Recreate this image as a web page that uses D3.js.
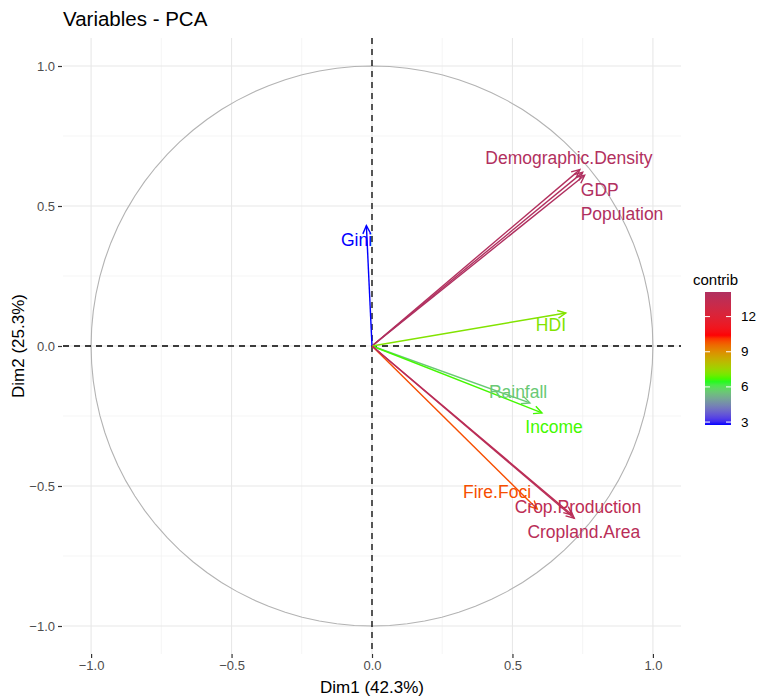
<!DOCTYPE html>
<html>
<head>
<meta charset="utf-8">
<script src="https://cdn.jsdelivr.net/npm/d3@7"></script>
<style>
  html, body { margin: 0; padding: 0; background: #fff; }
  svg { display: block; font-family: "Liberation Sans", Arial, sans-serif; }
</style>
</head>
<body>
<svg id="chart" width="769" height="699"></svg>
<script>
// ---- data ----
const variables = ["Demographic.Density", "GDP", "Population", "Gini", "HDI", "Rainfall", "Income", "Fire.Foci", "Crop.Production", "Cropland.Area"];
const dim1 = [0.740, 0.750, 0.757, -0.020, 0.690, 0.562, 0.605, 0.588, 0.712, 0.720];
const dim2 = [0.630, 0.620, 0.610, 0.430, 0.118, -0.203, -0.239, -0.582, -0.603, -0.615];
const contrib = [14.0, 14.05, 14.1, 2.75, 7.2, 5.6, 6.7, 9.9, 13.5, 13.7];
// label positions (data units, as placed by the repel layout)
const labelX = [0.701, 0.811, 0.890, -0.055, 0.637, 0.520, 0.648, 0.445, 0.733, 0.754];
const labelY = [0.671, 0.557, 0.471, 0.379, 0.075, -0.164, -0.289, -0.521, -0.575, -0.664];
const axisTicks = [-1.0, -0.5, 0.0, 0.5, 1.0];
const minorTicks = [-0.75, -0.25, 0.25, 0.75];
const legendTicks = [3, 6, 9, 12];
const contribRange = [2.75, 14.1];
const gradientCols = ["#0000FF", "#00FF00", "#FF0000", "#B03060"];
const titleText = "Variables - PCA";
const xTitle = "Dim1 (42.3%)";
const yTitle = "Dim2 (25.3%)";
const legendTitle = "contrib";

// ---- layout ----
const svg = d3.select("#chart");
const panel = { left: 63, right: 681, top: 38, bottom: 654 };

const x = d3.scaleLinear().domain([-1.1, 1.1]).range([panel.left, panel.right]);
const y = d3.scaleLinear().domain([-1.1, 1.1]).range([panel.bottom, panel.top]);

const nStops = gradientCols.length;
const color = d3.scaleLinear()
  .domain(d3.range(nStops).map(i => contribRange[0] + i * (contribRange[1] - contribRange[0]) / (nStops - 1)))
  .range(gradientCols)
  .interpolate(d3.interpolateLab)
  .clamp(true);

// grid
const grid = svg.append("g");
minorTicks.forEach(t => {
  grid.append("line").attr("x1", x(t)).attr("x2", x(t)).attr("y1", panel.top).attr("y2", panel.bottom)
    .attr("stroke", "#F3F3F3").attr("stroke-width", 0.8);
  grid.append("line").attr("y1", y(t)).attr("y2", y(t)).attr("x1", panel.left).attr("x2", panel.right)
    .attr("stroke", "#F3F3F3").attr("stroke-width", 0.8);
});
axisTicks.forEach(t => {
  grid.append("line").attr("x1", x(t)).attr("x2", x(t)).attr("y1", panel.top).attr("y2", panel.bottom)
    .attr("stroke", "#E8E8E8").attr("stroke-width", 1.1);
  grid.append("line").attr("y1", y(t)).attr("y2", y(t)).attr("x1", panel.left).attr("x2", panel.right)
    .attr("stroke", "#E8E8E8").attr("stroke-width", 1.1);
});

// axes
const xAxis = d3.axisBottom(x).tickValues(axisTicks).tickFormat(d3.format(".1f")).tickSize(4).tickPadding(3);
const yAxis = d3.axisLeft(y).tickValues(axisTicks).tickFormat(d3.format(".1f")).tickSize(4).tickPadding(3);
const gx = svg.append("g").attr("transform", `translate(0,${panel.bottom})`).call(xAxis);
const gy = svg.append("g").attr("transform", `translate(${panel.left - 1},0)`).call(yAxis);
[gx, gy].forEach(g => {
  g.select(".domain").remove();
  g.selectAll(".tick line").attr("stroke", "#333").attr("stroke-width", 1.2);
  g.selectAll(".tick text").attr("fill", "#4D4D4D").style("font-size", "13px")
    .style("font-family", "'Liberation Sans', Arial, sans-serif");
});

// circle
const circ = d3.range(0, 101).map(i => {
  const a = i / 100 * 2 * Math.PI;
  return [x(Math.cos(a)), y(Math.sin(a))];
});
svg.append("path").attr("d", d3.line()(circ)).attr("fill", "none")
  .attr("stroke", "#B3B3B3").attr("stroke-width", 1.1);

// dashed zero lines
svg.append("line").attr("x1", x(0)).attr("x2", x(0)).attr("y1", panel.top).attr("y2", panel.bottom)
  .attr("stroke", "#000").attr("stroke-width", 1.3).attr("stroke-dasharray", "6,5");
svg.append("line").attr("y1", y(0)).attr("y2", y(0)).attr("x1", panel.left).attr("x2", panel.right)
  .attr("stroke", "#000").attr("stroke-width", 1.3).attr("stroke-dasharray", "6,5");

// arrows
const data = variables.map((v, i) => ({ name: v, x: dim1[i], y: dim2[i], c: contrib[i], lx: labelX[i], ly: labelY[i] }));
const arrows = svg.append("g");
const headLen = 9, headAng = Math.PI / 7;
data.forEach(d => {
  const x0 = x(0), y0 = y(0), x1 = x(d.x), y1 = y(d.y);
  const ang = Math.atan2(y1 - y0, x1 - x0);
  const col = color(d.c);
  arrows.append("line").attr("x1", x0).attr("y1", y0).attr("x2", x1).attr("y2", y1)
    .attr("stroke", col).attr("stroke-width", 1.4);
  const p1 = [x1 - headLen * Math.cos(ang - headAng), y1 - headLen * Math.sin(ang - headAng)];
  const p2 = [x1 - headLen * Math.cos(ang + headAng), y1 - headLen * Math.sin(ang + headAng)];
  arrows.append("path").attr("d", d3.line()([p1, [x1, y1], p2]))
    .attr("fill", "none").attr("stroke", col).attr("stroke-width", 1.4);
});

// labels
svg.append("g").selectAll("text").data(data).join("text")
  .attr("x", d => x(d.lx)).attr("y", d => y(d.ly))
  .attr("text-anchor", "middle").attr("dominant-baseline", "central")
  .attr("fill", d => color(d.c)).style("font-size", "17.5px")
  .text(d => d.name);

// titles
svg.append("text").attr("x", 63).attr("y", 26).style("font-size", "20.5px").attr("fill", "#000").text(titleText);
svg.append("text").attr("x", x(0)).attr("y", 693).attr("text-anchor", "middle").style("font-size", "17px").attr("fill", "#000").text(xTitle);
svg.append("text").attr("transform", `translate(24,${y(0)}) rotate(-90)`).attr("text-anchor", "middle").style("font-size", "17px").attr("fill", "#000").text(yTitle);

// legend
const lg = { x: 705, w: 26, top: 292, bottom: 425 };
const ly = d3.scaleLinear().domain(contribRange).range([lg.bottom, lg.top]);
const defs = svg.append("defs");
const grad = defs.append("linearGradient").attr("id", "cgrad").attr("x1", 0).attr("y1", 1).attr("x2", 0).attr("y2", 0);
d3.range(0, 41).forEach(i => {
  const v = contribRange[0] + i / 40 * (contribRange[1] - contribRange[0]);
  grad.append("stop").attr("offset", (i / 40)).attr("stop-color", color(v));
});
svg.append("rect").attr("x", lg.x).attr("y", lg.top).attr("width", lg.w).attr("height", lg.bottom - lg.top).attr("fill", "url(#cgrad)");
legendTicks.forEach(t => {
  svg.append("line").attr("x1", lg.x).attr("x2", lg.x + 5).attr("y1", ly(t)).attr("y2", ly(t)).attr("stroke", "#fff").attr("stroke-width", 1);
  svg.append("line").attr("x1", lg.x + lg.w - 5).attr("x2", lg.x + lg.w).attr("y1", ly(t)).attr("y2", ly(t)).attr("stroke", "#fff").attr("stroke-width", 1);
  svg.append("text").attr("x", lg.x + lg.w + 10).attr("y", ly(t)).attr("dominant-baseline", "central")
    .style("font-size", "13.5px").attr("fill", "#000").text(t);
});
svg.append("text").attr("x", lg.x - 12).attr("y", 285).style("font-size", "15px").attr("fill", "#000").text(legendTitle);
</script>
</body>
</html>
